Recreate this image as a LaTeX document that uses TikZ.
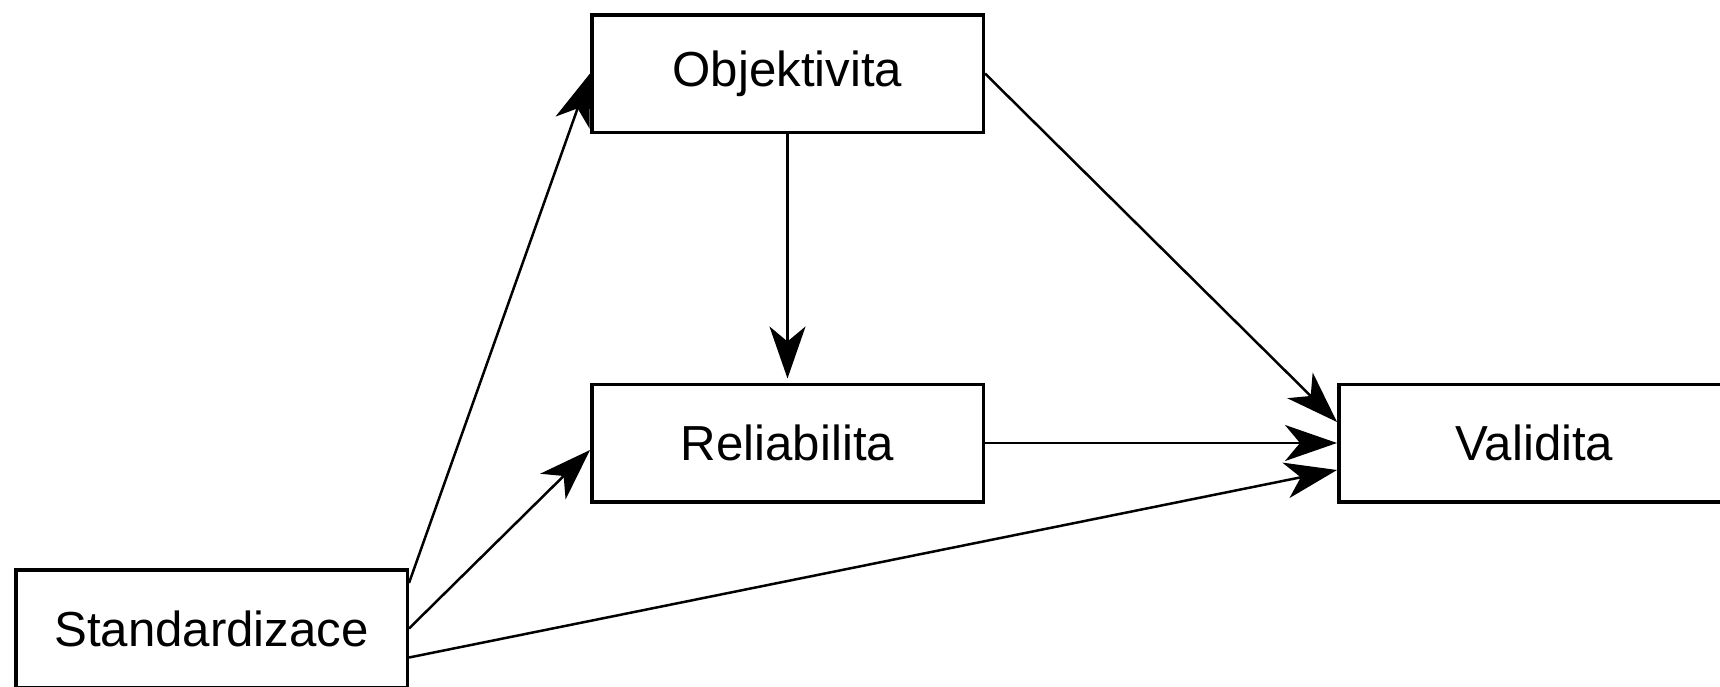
\documentclass[tikz,border=0pt]{standalone}
\usepackage{fontspec}
\setmainfont{Liberation Sans}
\usetikzlibrary{arrows.meta}
\begin{document}
\begin{tikzpicture}[
    box/.style={draw,line width=0.035cm,minimum width=3.915cm,minimum height=1.175cm,inner sep=0pt,font=\fontsize{14}{16}\selectfont},
    arr/.style={line width=0.025cm,-{Stealth[length=0.52cm,width=0.36cm,inset=0.15cm]}}]
    \clip (0,0) rectangle (17.2,6.86);
  	\node(obj) at (7.875,6.125) [box] {Objektivita};
  	\node(rel) at (7.875,2.43) [box] {Reliabilita};
  	\node(val) at (15.345,2.43) [box] {Validita};
  	\node(std) at (2.115,0.575) [box] {Standardizace};
    \draw[color=black] ([yshift=-0.15cm]std.north east) edge[arr] (obj.west);
    \draw[color=black] (std.east) edge[arr] ([yshift=-0.07cm]rel.west);
    \draw[color=black] ([yshift=-0.29cm]std.east) edge[arr] ([yshift=-0.27cm]val.west);
    \draw[color=black] (obj.east) edge[arr] ([yshift=0.21cm]val.west);
    \draw[color=black] (obj.south) edge[arr,shorten >=0.04cm] (rel.north);
    \draw[color=black] (rel.east) edge[arr] (val.west);
\end{tikzpicture}
\end{document}
